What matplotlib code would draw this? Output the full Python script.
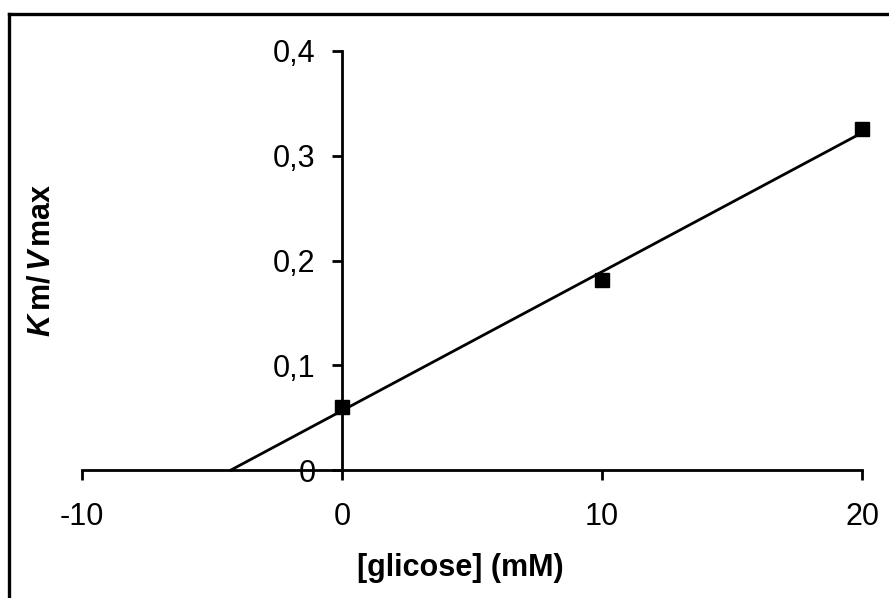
import numpy as np
import matplotlib
matplotlib.use("Agg")
import matplotlib.pyplot as plt
from matplotlib.lines import Line2D

plt.rcParams['font.family'] = ['Liberation Sans', 'DejaVu Sans']
plt.rcParams['mathtext.fontset'] = 'custom'
plt.rcParams['mathtext.rm'] = 'Liberation Sans'
plt.rcParams['mathtext.bf'] = 'Liberation Sans:bold'
plt.rcParams['mathtext.it'] = 'Liberation Sans:italic'
plt.rcParams['mathtext.bfit'] = 'Liberation Sans:italic:bold'

# data
glucose = [0, 10, 20]
km_vmax = [0.0605, 0.1815, 0.326]
x_ticks = [-10, 0, 10, 20]
y_ticks = [0, 0.1, 0.2, 0.3, 0.4]
y_tick_labels = ['0', '0,1', '0,2', '0,3', '0,4']
x_label = '[glicose] (mM)'
y_label = r'$\mathbfit{K}\,\mathbf{m/}\,\mathbfit{V}\,\mathbf{max}$'

W, H = 889, 598
fig = plt.figure(figsize=(W / 100, H / 100), dpi=100)
ax = fig.add_axes([81.7 / W, (H - 470) / H, (862.3 - 81.7) / W, (470 - 51) / H])

# trendline (linear fit), extended back to x-intercept
a, b = np.polyfit(glucose, km_vmax, 1)
x0 = -b / a
xs = np.array([x0, max(glucose)])
ax.plot(xs, a * xs + b, color='black', lw=2.0, clip_on=False, zorder=3)
ax.plot(glucose, km_vmax, linestyle='none', marker='s', ms=10.5, color='black',
        clip_on=False, zorder=4)

ax.set_xlim(-10, 20)
ax.set_ylim(0, 0.4)
for s in ['top', 'right']:
    ax.spines[s].set_visible(False)
ax.spines['left'].set_position(('data', 0))
ax.spines['bottom'].set_position(('data', 0))
for s in ['left', 'bottom']:
    ax.spines[s].set_linewidth(2.0)

ax.set_xticks(x_ticks)
ax.set_xticklabels([str(t) for t in x_ticks])
ax.set_yticks(y_ticks)
ax.set_yticklabels(y_tick_labels)
ax.tick_params(axis='x', direction='out', length=7, width=2.0, labelsize=22, pad=16)
ax.tick_params(axis='y', direction='out', length=7, width=2.0, labelsize=22, pad=12)

fig.text(460 / W, (H - 568) / H, x_label, ha='center', va='center', fontsize=22,
         fontweight='bold')
fig.text(42 / W, (H - 260) / H, y_label, ha='center', va='center', fontsize=22,
         rotation=90)

# outer frame (left and top edges visible)
fig.add_artist(Line2D([9 / W, 9 / W], [0, (H - 14) / H], transform=fig.transFigure,
                      color='black', lw=2.4))
fig.add_artist(Line2D([9 / W, 1.0], [(H - 14) / H, (H - 14) / H], transform=fig.transFigure,
                      color='black', lw=2.4))

fig.savefig('out.png', dpi=100)
